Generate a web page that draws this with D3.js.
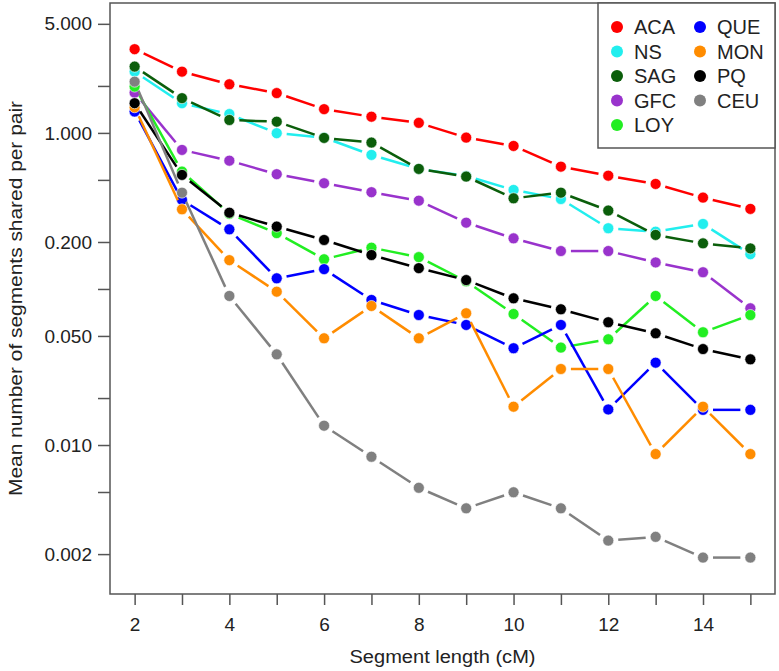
<!DOCTYPE html>
<html>
<head>
<meta charset="utf-8">
<script src="https://cdn.jsdelivr.net/npm/d3@7"></script>
<style>
  body { margin: 0; background: #fff; }
  text { font-family: "Liberation Sans", Arial, sans-serif; fill: #222; }
</style>
</head>
<body>
<div id="chart"></div>
<script>
// segment lengths (cM)
const lengths = [2, 3, 4, 5, 6, 7, 8, 9, 10, 11, 12, 13, 14, 15];

// populations, in drawing / legend order
const groups = ['ACA', 'NS', 'SAG', 'GFC', 'LOY', 'QUE', 'MON', 'PQ', 'CEU'];
const colors = ['#ff0000', '#22eeee', '#0b5e0b', '#9933cc', '#22ee22', '#0000ff', '#ff8c00', '#000000', '#808080'];

// mean number of segments shared per pair
const ACA = [3.44, 2.47, 2.05, 1.80, 1.42, 1.27, 1.16, 0.933, 0.825, 0.608, 0.532, 0.471, 0.385, 0.326];
const NS  = [2.47, 1.55, 1.32, 0.996, 0.933, 0.723, 0.588, 0.530, 0.431, 0.377, 0.245, 0.233, 0.261, 0.167];
const SAG = [2.66, 1.67, 1.21, 1.18, 0.929, 0.867, 0.588, 0.525, 0.381, 0.414, 0.318, 0.222, 0.196, 0.182];
const GFC = [1.81, 0.778, 0.664, 0.544, 0.476, 0.417, 0.368, 0.266, 0.211, 0.175, 0.175, 0.148, 0.128, 0.0752];
const LOY = [1.98, 0.565, 0.303, 0.228, 0.155, 0.184, 0.160, 0.112, 0.0691, 0.0421, 0.0476, 0.0902, 0.0528, 0.0681];
const QUE = [1.37, 0.372, 0.241, 0.117, 0.134, 0.0850, 0.0681, 0.0588, 0.0417, 0.0588, 0.0169, 0.0337, 0.0168, 0.0168];
const MON = [1.46, 0.324, 0.153, 0.0961, 0.0483, 0.0778, 0.0483, 0.0699, 0.0176, 0.0307, 0.0307, 0.00875, 0.0176, 0.00875];
const PQ  = [1.55, 0.538, 0.308, 0.251, 0.206, 0.165, 0.136, 0.114, 0.0871, 0.0741, 0.0612, 0.0520, 0.0412, 0.0354];
const CEU = [2.13, 0.414, 0.0902, 0.0381, 0.0133, 0.00841, 0.00532, 0.00393, 0.00498, 0.00393, 0.00244, 0.00258, 0.00190, 0.00190];
const values = [ACA, NS, SAG, GFC, LOY, QUE, MON, PQ, CEU];

// axis ticks
const yTicks = [5, 2, 1, 0.5, 0.2, 0.1, 0.05, 0.02, 0.01, 0.005, 0.002];
const yLabels = [5, 1, 0.2, 0.05, 0.01, 0.002];
const xLabels = [2, 4, 6, 8, 10, 12, 14];

const width = 779, height = 671;
const plot = { left: 110, right: 775, top: 3, bottom: 594 };
const frameColor = '#555';

const svg = d3.select('#chart').append('svg')
    .attr('width', width)
    .attr('height', height);

const x = d3.scaleLinear().domain([1.48, 15.52]).range([plot.left, plot.right]);
const y = d3.scaleLog().domain([0.00111, 6.8]).range([plot.bottom, plot.top]);

// Y axis
const yAxis = svg.append('g')
    .attr('transform', `translate(${plot.left},0)`)
    .call(d3.axisLeft(y)
        .tickValues(yTicks)
        .tickSize(12)
        .tickPadding(6)
        .tickFormat(d => yLabels.includes(d) ? d3.format('.3f')(d) : ''));
yAxis.select('.domain').remove();
yAxis.selectAll('line').attr('stroke', frameColor).attr('stroke-width', 1.5);
yAxis.selectAll('text').style('font-size', '19px').attr('fill', '#222');

// X axis
const xAxis = svg.append('g')
    .attr('transform', `translate(0,${plot.bottom})`)
    .call(d3.axisBottom(x)
        .tickValues(lengths)
        .tickSize(11)
        .tickPadding(13)
        .tickFormat(d => xLabels.includes(d) ? d : ''));
xAxis.select('.domain').remove();
xAxis.selectAll('line').attr('stroke', frameColor).attr('stroke-width', 1.5);
xAxis.selectAll('text').style('font-size', '19px').attr('fill', '#222');

// box round the plot
svg.append('rect')
    .attr('x', plot.left)
    .attr('y', plot.top)
    .attr('width', plot.right - plot.left)
    .attr('height', plot.bottom - plot.top)
    .attr('fill', 'none')
    .attr('stroke', frameColor)
    .attr('stroke-width', 1.5);

// axis titles
svg.append('text')
    .attr('x', (plot.left + plot.right) / 2)
    .attr('y', 663)
    .attr('text-anchor', 'middle')
    .attr('textLength', 186)
    .attr('lengthAdjust', 'spacingAndGlyphs')
    .style('font-size', '18px')
    .text('Segment length (cM)');

svg.append('text')
    .attr('transform', `translate(22,${(plot.top + plot.bottom) / 2}) rotate(-90)`)
    .attr('text-anchor', 'middle')
    .attr('textLength', 395)
    .attr('lengthAdjust', 'spacingAndGlyphs')
    .style('font-size', '18px')
    .text('Mean number of segments shared per pair');

// series: lines with gaps round the points (like type = "b"), then points
const gap = 10;
const series = svg.append('g');

groups.forEach((g, i) => {
    const pts = lengths.map((l, j) => [x(l), y(values[i][j])]);
    const segs = d3.pairs(pts).map(([a, b]) => {
        const dx = b[0] - a[0], dy = b[1] - a[1];
        const len = Math.hypot(dx, dy);
        if (len <= 2 * gap) return null;
        const ux = dx / len, uy = dy / len;
        return [a[0] + ux * gap, a[1] + uy * gap, b[0] - ux * gap, b[1] - uy * gap];
    }).filter(s => s);

    const grp = series.append('g').attr('class', g);
    grp.selectAll('line')
        .data(segs)
        .join('line')
        .attr('x1', d => d[0]).attr('y1', d => d[1])
        .attr('x2', d => d[2]).attr('y2', d => d[3])
        .attr('stroke', colors[i])
        .attr('stroke-width', 2.5);

    grp.selectAll('circle')
        .data(lengths.map((l, j) => ({ l, v: values[i][j] })))
        .join('circle')
        .attr('cx', d => x(d.l))
        .attr('cy', d => y(d.v))
        .attr('r', 5.5)
        .attr('fill', colors[i])
        .attr('stroke', '#fff')
        .attr('stroke-opacity', 0.6)
        .attr('stroke-width', 1);
});

// legend
const legend = svg.append('g');
legend.append('rect')
    .attr('x', 598).attr('y', plot.top)
    .attr('width', plot.right - 598).attr('height', 145)
    .attr('fill', '#fff')
    .attr('stroke', frameColor)
    .attr('stroke-width', 1.5);

const rows = 5;
const item = legend.selectAll('g.item')
    .data(groups)
    .join('g')
    .attr('class', 'item')
    .attr('transform', (d, i) => `translate(${i < rows ? 617 : 700},${27 + (i % rows) * 24.5})`);

item.append('circle')
    .attr('r', 6)
    .attr('fill', (d, i) => colors[i]);

item.append('text')
    .attr('x', 17)
    .attr('dy', '0.36em')
    .style('font-size', '20px')
    .text(d => d);
</script>
</body>
</html>
